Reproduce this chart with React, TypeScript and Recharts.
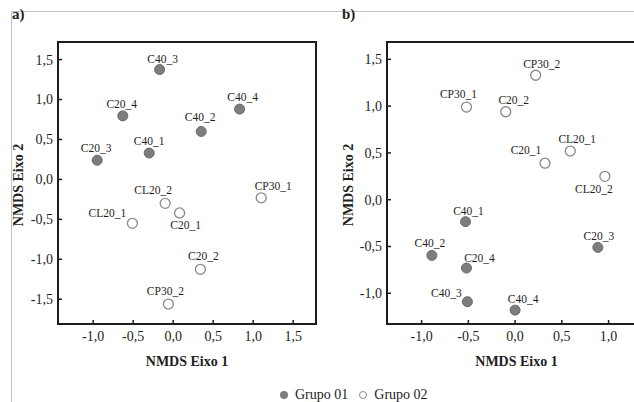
import React from "react";
import {
  ReferenceArea,
  Scatter,
  ScatterChart,
  XAxis,
  YAxis,
} from "recharts";

// Panel a
const A_G1_NAMES = ["C40_3", "C20_4", "C40_4", "C40_2", "C40_1", "C20_3"];
const A_G1_X = [-0.17, -0.63, 0.83, 0.35, -0.3, -0.95];
const A_G1_Y = [1.375, 0.795, 0.88, 0.6, 0.33, 0.24];

const A_G2_NAMES = ["CP30_1", "CL20_2", "C20_1", "CL20_1", "C20_2", "CP30_2"];
const A_G2_X = [1.1, -0.1, 0.08, -0.51, 0.34, -0.06];
const A_G2_Y = [-0.23, -0.3, -0.42, -0.55, -1.125, -1.56];

// Panel b
const B_G1_NAMES = ["C40_1", "C40_2", "C20_4", "C40_3", "C40_4", "C20_3"];
const B_G1_X = [-0.53, -0.89, -0.52, -0.51, 0.0, 0.885];
const B_G1_Y = [-0.235, -0.595, -0.73, -1.09, -1.18, -0.51];

const B_G2_NAMES = ["CP30_2", "CP30_1", "C20_2", "CL20_1", "C20_1", "CL20_2"];
const B_G2_X = [0.22, -0.52, -0.1, 0.59, 0.32, 0.96];
const B_G2_Y = [1.33, 0.99, 0.94, 0.52, 0.39, 0.25];

const A_X_TICKS = [-1, -0.5, 0, 0.5, 1, 1.5];
const A_Y_TICKS = [-1.5, -1, -0.5, 0, 0.5, 1, 1.5];
const B_X_TICKS = [-1, -0.5, 0, 0.5, 1];
const B_Y_TICKS = [-1, -0.5, 0, 0.5, 1, 1.5];

const A_X_DOMAIN: [number, number] = [-1.44, 1.785];
const A_Y_DOMAIN: [number, number] = [-1.81, 1.72];
const B_X_DOMAIN: [number, number] = [-1.37, 1.4];
const B_Y_DOMAIN: [number, number] = [-1.328, 1.685];

// label centre offsets (px) relative to the point
const A_LABEL_OFFSETS: Record<string, [number, number]> = {
  C40_3: [3, -11],
  C20_4: [-1, -12],
  C40_4: [3, -12],
  C40_2: [-1, -14],
  C40_1: [0, -12],
  C20_3: [-1, -12],
  CP30_1: [12, -12],
  CL20_2: [-12, -13],
  C20_1: [6, 12],
  CL20_1: [-25, -10],
  C20_2: [3, -13],
  CP30_2: [-3, -13],
};

const B_LABEL_OFFSETS: Record<string, [number, number]> = {
  CP30_2: [6, -11],
  CP30_1: [-8, -13],
  C20_2: [8, -12],
  CL20_1: [7, -12],
  C20_1: [-19, -13],
  CL20_2: [-11, 13],
  C40_1: [3, -11],
  C40_2: [-2, -12],
  C20_4: [13, -10],
  C40_3: [-21, -9],
  C40_4: [8, -11],
  C20_3: [1, -11],
};

const SERIF = "'Liberation Serif', 'Times New Roman', serif";
const INK = "#1e1e1e";
const FILL_GREY = "#7d7d7d";

const toPoints = (names: string[], xs: number[], ys: number[]) =>
  names.map((name, i) => ({ name, x: xs[i], y: ys[i] }));

const fmt = (v: number) => v.toFixed(1).replace(".", ",");

function makeShape(filled: boolean, offsets: Record<string, [number, number]>) {
  return (props: any) => {
    const { cx, cy, payload } = props;
    const [dx, dy] = offsets[payload.name] ?? [0, -12];
    return (
      <g>
        <circle
          cx={cx}
          cy={cy}
          r={5}
          fill={filled ? FILL_GREY : "#fff"}
          stroke={filled ? "#6a6a6a" : "#8a8a8a"}
          strokeWidth={filled ? 1 : 1.3}
        />
        <text
          x={cx + dx}
          y={cy + dy + 4}
          textAnchor="middle"
          fontFamily={SERIF}
          fontSize={11.5}
          fill={INK}
        >
          {payload.name}
        </text>
      </g>
    );
  };
}

function YTitle({ viewBox, shift }: any) {
  if (!viewBox) return null;
  const cx = viewBox.x + shift;
  const cy = viewBox.y + viewBox.height / 2 + 2;
  return (
    <text
      x={cx}
      y={cy}
      transform={`rotate(-90 ${cx} ${cy})`}
      textAnchor="middle"
      dominantBaseline="central"
      fontFamily={SERIF}
      fontSize={14}
      fontWeight="bold"
      fill={INK}
    >
      NMDS Eixo 2
    </text>
  );
}

function Panel({
  width,
  yAxisWidth,
  titleShift,
  xDomain,
  yDomain,
  xTicks,
  yTicks,
  g1,
  g2,
  offsets,
}: any) {
  const tickStyle = { fill: INK, fontSize: 14, fontFamily: SERIF };
  return (
    <ScatterChart
      width={width}
      height={380}
      margin={{ top: 42, right: 4, bottom: 0, left: 0 }}
    >
      <XAxis
        type="number"
        dataKey="x"
        domain={xDomain}
        ticks={xTicks}
        tickFormatter={fmt}
        height={56}
        axisLine={false}
        tickSize={-4}
        tickMargin={11}
        tickLine={{ stroke: INK, strokeWidth: 1.5 }}
        tick={tickStyle}
        interval={0}
        label={{
          value: "NMDS Eixo 1",
          position: "insideBottom",
          offset: 14,
          style: {
            fontFamily: SERIF,
            fontSize: 14,
            fontWeight: "bold",
            fill: INK,
          },
        }}
      />
      <YAxis
        type="number"
        dataKey="y"
        domain={yDomain}
        ticks={yTicks}
        tickFormatter={fmt}
        width={yAxisWidth}
        axisLine={false}
        tickSize={-4}
        tickMargin={9}
        tickLine={{ stroke: INK, strokeWidth: 1.5 }}
        tick={tickStyle}
        interval={0}
        label={{ content: (p: any) => <YTitle {...p} shift={titleShift} /> }}
      />
      <ReferenceArea
        x1={xDomain[0]}
        x2={xDomain[1]}
        y1={yDomain[0]}
        y2={yDomain[1]}
        fill="none"
        stroke={INK}
        strokeWidth={2}
        ifOverflow="visible"
      />
      <Scatter
        data={g1}
        isAnimationActive={false}
        shape={makeShape(true, offsets)}
      />
      <Scatter
        data={g2}
        isAnimationActive={false}
        shape={makeShape(false, offsets)}
      />
    </ScatterChart>
  );
}

export default function App() {
  const aG1 = toPoints(A_G1_NAMES, A_G1_X, A_G1_Y);
  const aG2 = toPoints(A_G2_NAMES, A_G2_X, A_G2_Y);
  const bG1 = toPoints(B_G1_NAMES, B_G1_X, B_G1_Y);
  const bG2 = toPoints(B_G2_NAMES, B_G2_X, B_G2_Y);

  return (
    <div
      style={{
        position: "absolute",
        left: 0,
        top: 0,
        width: 634,
        height: 402,
        overflow: "hidden",
        background: "#fff",
        fontFamily: SERIF,
        color: INK,
      }}
    >
      {/* thin grey frame */}
      <div
        style={{
          position: "absolute",
          left: 11,
          top: 11,
          width: 640,
          height: 400,
          borderTop: "1px solid #c4c4c4",
          borderLeft: "1px solid #c4c4c4",
        }}
      />
      <div
        style={{
          position: "absolute",
          left: 12,
          top: 4,
          fontSize: 15,
          fontWeight: "bold",
          lineHeight: "20px",
        }}
      >
        a)
      </div>
      <div
        style={{
          position: "absolute",
          left: 342,
          top: 4,
          fontSize: 15,
          fontWeight: "bold",
          lineHeight: "20px",
        }}
      >
        b)
      </div>

      <div style={{ position: "absolute", left: 0, top: 0 }}>
        <Panel
          width={320}
          yAxisWidth={58}
          titleShift={18}
          xDomain={A_X_DOMAIN}
          yDomain={A_Y_DOMAIN}
          xTicks={A_X_TICKS}
          yTicks={A_Y_TICKS}
          g1={aG1}
          g2={aG2}
          offsets={A_LABEL_OFFSETS}
        />
      </div>
      <div style={{ position: "absolute", left: 320, top: 0 }}>
        <Panel
          width={330}
          yAxisWidth={67}
          titleShift={28}
          xDomain={B_X_DOMAIN}
          yDomain={B_Y_DOMAIN}
          xTicks={B_X_TICKS}
          yTicks={B_Y_TICKS}
          g1={bG1}
          g2={bG2}
          offsets={B_LABEL_OFFSETS}
        />
      </div>

      {/* legend */}
      <div
        style={{
          position: "absolute",
          left: 279,
          top: 386,
          display: "flex",
          alignItems: "center",
          fontSize: 14,
          lineHeight: "18px",
          whiteSpace: "nowrap",
        }}
      >
        <svg width={10} height={10} style={{ marginRight: 6 }}>
          <circle cx={5} cy={5} r={4} fill={FILL_GREY} />
        </svg>
        <span style={{ marginRight: 10 }}>Grupo 01</span>
        <svg width={10} height={10} style={{ marginRight: 6 }}>
          <circle cx={5} cy={5} r={3.5} fill="#fff" stroke="#8a8a8a" />
        </svg>
        <span>Grupo 02</span>
      </div>
    </div>
  );
}
